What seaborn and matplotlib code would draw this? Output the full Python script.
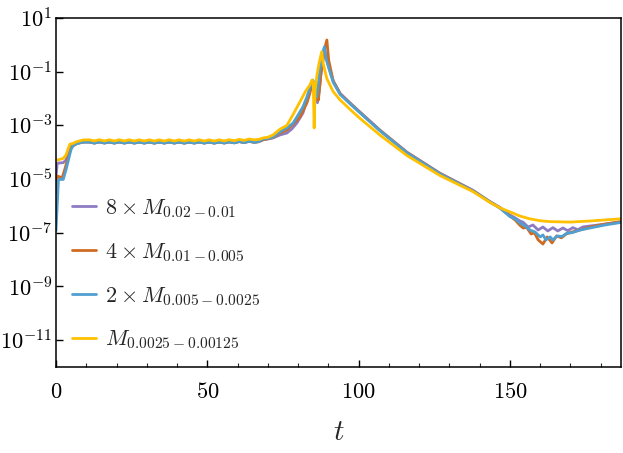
import numpy as np
import pandas as pd
import matplotlib
matplotlib.use("Agg")
import matplotlib.pyplot as plt
import matplotlib.ticker as mticker
import seaborn as sns

# ---------------- data ----------------
labels = [r"$8\times M_{0.02-0.01}$", r"$4\times M_{0.01-0.005}$",
          r"$2\times M_{0.005-0.0025}$", r"$M_{0.0025-0.00125}$"]
colors = ["#8e7cc3", "#cf6a22", "#4f9fd0", "#ffc000"]

t_plateau = [11.0, 12.7, 14.3, 16.0, 17.6, 19.3, 20.9, 22.6, 24.2, 25.9, 27.5, 29.2,
             30.8, 32.5, 34.1, 35.8, 37.4, 39.1, 40.7, 42.4, 44.0, 45.7, 47.3, 49.0,
             50.6, 52.3, 53.9, 55.6, 57.2, 58.9, 60.5, 62.2, 63.8, 65.5]
v_plateau_others = [2.40e-4, 2.20e-4, 2.42e-4, 2.21e-4, 2.40e-4, 2.20e-4, 2.41e-4, 2.20e-4,
                    2.40e-4, 2.20e-4, 2.39e-4, 2.20e-4, 2.40e-4, 2.19e-4, 2.39e-4, 2.20e-4,
                    2.40e-4, 2.20e-4, 2.39e-4, 2.19e-4, 2.39e-4, 2.20e-4, 2.40e-4, 2.20e-4,
                    2.39e-4, 2.19e-4, 2.40e-4, 2.21e-4, 2.43e-4, 2.24e-4, 2.50e-4, 2.29e-4,
                    2.56e-4, 2.34e-4]
v_plateau_yellow = [2.90e-4, 2.64e-4, 2.92e-4, 2.63e-4, 2.90e-4, 2.62e-4, 2.91e-4, 2.63e-4,
                    2.90e-4, 2.62e-4, 2.89e-4, 2.62e-4, 2.90e-4, 2.61e-4, 2.89e-4, 2.62e-4,
                    2.90e-4, 2.62e-4, 2.89e-4, 2.61e-4, 2.89e-4, 2.62e-4, 2.90e-4, 2.62e-4,
                    2.89e-4, 2.61e-4, 2.90e-4, 2.63e-4, 2.93e-4, 2.68e-4, 3.01e-4, 2.76e-4,
                    3.11e-4, 2.90e-4]

# purple: 8 x M_{0.02-0.01}
t_purple_start = [0.0, 0.4, 2.4, 3.3, 4.1, 4.9, 6.8, 9.0]
v_purple_start = [1.2e-5, 3.9e-5, 4.1e-5, 5.1e-5, 9.3e-5, 1.6e-4, 2.15e-4, 2.4e-4]
t_purple_end = [67.0, 68.4, 70.0, 71.7, 74.0, 76.3, 78.0, 79.6, 81.6, 82.9, 84.3, 85.0, 85.6,
                86.4, 87.0, 87.6, 88.8, 89.7, 90.5, 91.6, 93.9, 97.2, 100.5, 107.1, 116.0,
                126.9, 137.8, 143.4, 146.7, 150.0, 151.7, 153.3, 154.3, 156.0, 157.6, 159.3,
                160.9, 162.5, 164.2, 165.8, 167.5, 169.1, 170.8, 172.4, 174.1, 176.5, 181.4,
                186.4]
v_purple_end = [2.5e-4, 2.9e-4, 3.1e-4, 3.4e-4, 4.4e-4, 5.2e-4, 7.5e-4, 1.23e-3, 2.9e-3,
                8.8e-3, 0.032, 0.028, 0.012, 0.007, 0.02, 0.0975, 0.64, 0.23, 0.116, 0.045,
                0.0155, 0.0068, 0.0031, 6.6e-4, 1.0e-4, 1.65e-5, 3.8e-6, 1.45e-6, 8.8e-7,
                4.6e-7, 3.6e-7, 2.75e-7, 2.5e-7, 1.64e-7, 1.95e-7, 1.27e-7, 1.64e-7, 1.17e-7,
                1.55e-7, 1.17e-7, 1.51e-7, 1.2e-7, 1.55e-7, 1.3e-7, 1.65e-7, 1.79e-7, 2.1e-7,
                2.5e-7]

# orange: 4 x M_{0.01-0.005}
t_orange_start = [0.0, 0.4, 1.3, 2.0, 3.0, 4.1, 4.9, 6.8, 9.0]
v_orange_start = [3.0e-6, 1.3e-5, 1.2e-5, 1.1e-5, 2.5e-5, 7.0e-5, 1.5e-4, 2.1e-4, 2.4e-4]
t_orange_end = [67.0, 68.4, 70.0, 71.7, 74.0, 76.3, 78.3, 80.6, 82.9, 83.9, 84.6, 85.3, 86.0,
                86.7, 87.5, 88.5, 89.5, 90.1, 90.8, 91.6, 93.9, 97.2, 100.5, 107.1, 116.0,
                126.9, 137.8, 143.4, 146.7, 150.0, 151.7, 153.3, 154.4, 155.5, 157.0, 158.1,
                159.3, 160.9, 162.3, 163.9, 165.4, 167.0, 168.6, 170.5, 173.2, 176.5, 181.4,
                186.4]
v_orange_end = [2.45e-4, 2.9e-4, 3.2e-4, 3.6e-4, 5.2e-4, 6.75e-4, 1.1e-3, 2.06e-3, 6.8e-3,
                0.016, 0.035, 0.021, 0.012, 0.0088, 0.075, 0.55, 1.52, 0.27, 0.116, 0.045,
                0.015, 0.0066, 0.003, 6.4e-4, 9.7e-5, 1.6e-5, 3.7e-6, 1.4e-6, 8.5e-7, 4.2e-7,
                3.0e-7, 1.9e-7, 1.5e-7, 1.6e-7, 9.0e-8, 1.0e-7, 5.5e-8, 3.8e-8, 7.0e-8,
                4.2e-8, 7.6e-8, 6.5e-8, 9.0e-8, 1.07e-7, 1.27e-7, 1.64e-7, 2.1e-7, 2.6e-7]

# blue: 2 x M_{0.005-0.0025}
t_blue_start = [0.0, 0.8, 1.3, 2.4, 3.3, 4.1, 4.9, 5.7, 7.4, 9.0]
v_blue_start = [1.2e-7, 9.2e-6, 9.8e-6, 9.8e-6, 2.2e-5, 5.1e-5, 1.2e-4, 1.86e-4, 2.15e-4,
                2.4e-4]
t_blue_end = [67.0, 68.4, 70.0, 71.7, 74.0, 76.3, 78.3, 79.6, 81.6, 82.9, 83.9, 84.8, 85.3,
              86.2, 87.2, 87.9, 88.7, 89.2, 90.0, 91.6, 93.9, 97.2, 100.5, 107.1, 116.0,
              126.9, 137.8, 143.4, 146.7, 150.0, 151.7, 153.3, 155.0, 156.6, 158.3, 160.0,
              160.9, 161.9, 163.3, 164.2, 165.6, 167.2, 168.9, 170.5, 173.2, 176.5, 181.4,
              186.4]
v_blue_end = [2.5e-4, 3.1e-4, 3.3e-4, 3.7e-4, 5.7e-4, 8.0e-4, 1.2e-3, 2.06e-3, 4.9e-3,
              0.0114, 0.025, 0.049, 0.038, 0.0114, 0.116, 0.42, 0.85, 0.32, 0.15, 0.04,
              0.0142, 0.0063, 0.0029, 6.2e-4, 9.4e-5, 1.55e-5, 3.6e-6, 1.4e-6, 8.3e-7,
              4.0e-7, 3.3e-7, 2.3e-7, 1.79e-7, 1.27e-7, 1.07e-7, 7.0e-8, 8.3e-8, 5.4e-8,
              7.0e-8, 5.4e-8, 7.6e-8, 7.3e-8, 9.8e-8, 1.0e-7, 1.27e-7, 1.51e-7, 1.95e-7,
              2.4e-7]

# yellow: M_{0.0025-0.00125}
t_yellow_start = [0.0, 0.4, 2.4, 3.3, 4.1, 4.6, 5.7, 6.8, 9.0]
v_yellow_start = [5.0e-5, 5.1e-5, 5.9e-5, 7.9e-5, 1.44e-4, 2.0e-4, 2.15e-4, 2.47e-4, 2.86e-4]
t_yellow_end = [67.0, 68.4, 70.0, 71.7, 74.0, 76.3, 78.3, 80.6, 82.5, 83.9, 84.6, 85.0, 85.3,
                85.6, 86.2, 86.9, 87.8, 88.3, 89.5, 91.6, 93.9, 97.2, 100.5, 107.1, 116.0,
                126.9, 137.8, 143.4, 146.7, 150.0, 153.3, 156.6, 160.0, 163.3, 169.9, 176.5,
                186.4]
v_yellow_end = [3.0e-4, 3.4e-4, 3.6e-4, 4.4e-4, 7.2e-4, 1.0e-3, 2.5e-3, 7.5e-3, 0.019,
                0.032, 0.049, 0.04, 8.0e-4, 0.02, 0.07, 0.2, 0.556, 0.2, 0.055, 0.018,
                0.0088, 0.0039, 0.0018, 4.3e-4, 7.5e-5, 1.35e-5, 3.4e-6, 1.35e-6, 8.5e-7,
                6.0e-7, 4.2e-7, 3.3e-7, 2.8e-7, 2.6e-7, 2.5e-7, 2.75e-7, 3.3e-7]

x_ticks = [0, 50, 100, 150]
y_tick_exponents = [1, -1, -3, -5, -7, -9, -11]

# ---------------- assemble ----------------
series = [
    (labels[0], t_purple_start + t_plateau + t_purple_end,
     v_purple_start + v_plateau_others + v_purple_end),
    (labels[1], t_orange_start + t_plateau + t_orange_end,
     v_orange_start + v_plateau_others + v_orange_end),
    (labels[2], t_blue_start + t_plateau + t_blue_end,
     v_blue_start + v_plateau_others + v_blue_end),
    (labels[3], t_yellow_start + t_plateau + t_yellow_end,
     v_yellow_start + v_plateau_yellow + v_yellow_end),
]
frames = [pd.DataFrame({"t": t, "value": v, "series": name}) for name, t, v in series]
df = pd.concat(frames, ignore_index=True)

# ---------------- plot ----------------
sns.set_style("ticks")
plt.rcParams["mathtext.fontset"] = "cm"
plt.rcParams["font.family"] = ["DejaVu Serif"]

fig = plt.figure(figsize=(6.23, 4.53), dpi=100)
ax = fig.add_axes([0.0899, 0.1898, 0.9069, 0.7705])

sns.lineplot(data=df, x="t", y="value", hue="series", hue_order=labels,
             palette=dict(zip(labels, colors)), estimator=None, sort=False,
             linewidth=2.0, ax=ax)

ax.set_yscale("log")
ax.set_xlim(0, 186.7)
ax.set_ylim(1e-12, 10)

ax.xaxis.set_major_locator(mticker.FixedLocator(x_ticks))
ax.xaxis.set_minor_locator(mticker.MultipleLocator(10))
ax.xaxis.set_major_formatter(mticker.FuncFormatter(lambda v, p: r"$%d$" % v))
ax.yaxis.set_major_locator(mticker.FixedLocator([10.0 ** e for e in y_tick_exponents]))
ax.yaxis.set_minor_locator(mticker.NullLocator())
ax.yaxis.set_major_formatter(mticker.FuncFormatter(
    lambda v, p: r"$10^{%d}$" % int(round(np.log10(v)))))

ax.tick_params(axis="both", which="major", direction="in", length=5, width=1,
               labelsize=16.2, colors="black")
ax.tick_params(axis="y", which="major", pad=2.5)
ax.tick_params(axis="x", which="major", pad=10)
ax.tick_params(axis="x", which="minor", direction="in", length=3, width=0.8)
for s in ax.spines.values():
    s.set_visible(True)
    s.set_color("black")
    s.set_linewidth(1.1)

ax.set_xlabel(r"$t$", fontsize=21, labelpad=11)
ax.set_ylabel("")

handles, lbls = ax.get_legend_handles_labels()
leg = ax.legend(handles, lbls, loc="lower left", bbox_to_anchor=(0.0, 0.0),
                frameon=False, fontsize=16, handlelength=1.1, handletextpad=0.4,
                labelspacing=0.95, borderaxespad=0.3)

fig.savefig("out.png", dpi=100)
